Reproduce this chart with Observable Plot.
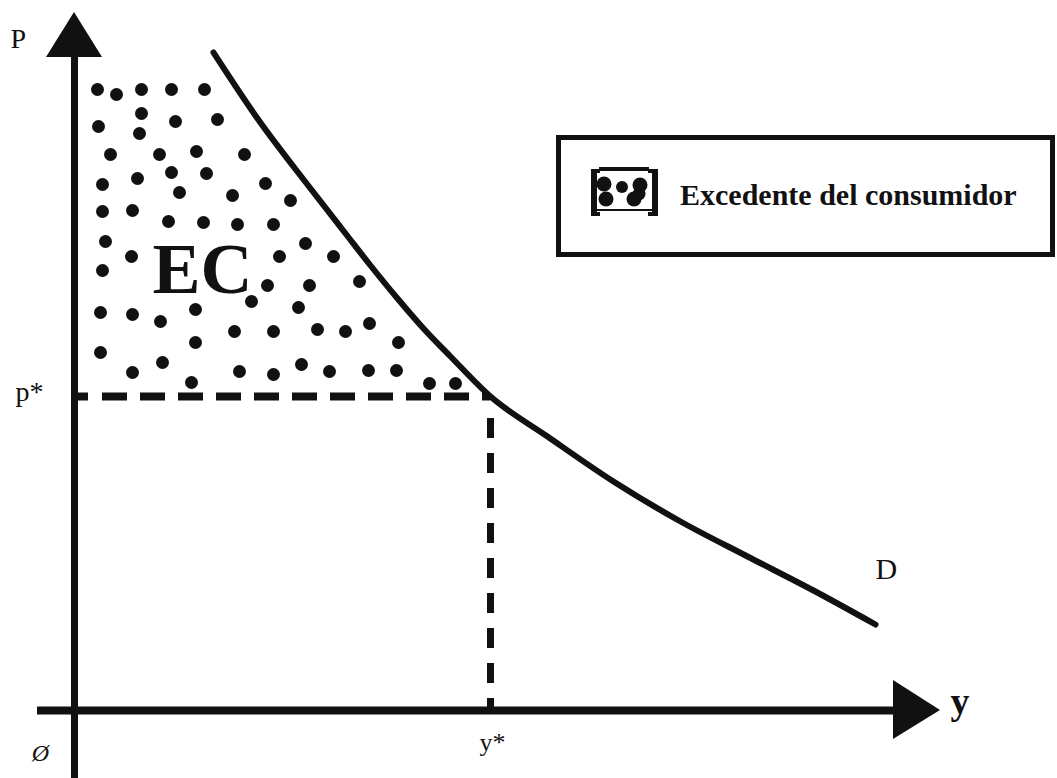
<!DOCTYPE html>
<html>
<head>
<meta charset="utf-8">
<script src="https://cdn.jsdelivr.net/npm/d3@7"></script>
<script src="https://cdn.jsdelivr.net/npm/@observablehq/plot@0.6"></script>
<style>
  html, body { margin: 0; padding: 0; background: #fff; }
  #wrap { position: relative; width: 1057px; height: 778px; overflow: hidden; background: #fff; }
  #wrap svg { position: absolute; left: 0; top: 0; display: block; }
</style>
</head>
<body>
<div id="wrap"></div>
<script>
// ---- data (quantity q, price p; origin at the axes' crossing) ----
const demandQ = [139, 183, 236, 271, 296, 323, 349, 376, 416, 473, 539, 606, 673, 739, 801];
const demandP = [658, 592, 522, 477, 445, 412, 382, 354, 314, 274, 229, 189, 154, 120, 86];
const qStar = 416;
const pStar = 314;

// dots filling the consumer surplus region
const dotQ = [23, 42, 67, 97, 130,
  24, 67, 65, 101, 143,
  36, 85, 122, 170,
  28, 63, 97, 132, 105, 158, 191, 216,
  28, 58, 94, 129, 163, 199,
  31, 231,
  57, 205, 259,
  28,
  193, 235, 285,
  177, 224,
  26, 58, 86, 121,
  160, 199, 243, 271, 295,
  121, 324,
  26,
  88, 227,
  58, 165, 199, 255, 294, 322,
  117, 355, 381];
const dotP = [621, 616, 621, 621, 621,
  584, 597, 577, 589, 591,
  556, 556, 559, 556,
  526, 532, 538, 537, 518, 515, 527, 510,
  499, 500, 489, 488, 486, 486,
  469, 467,
  454, 454, 454,
  440,
  425, 425, 429,
  409, 403,
  398, 396, 389, 401,
  379, 379, 381, 379, 387,
  368, 368,
  358,
  348, 346,
  338, 339, 336, 339, 340, 340,
  328, 327, 327];

// text labels
const priceAxisLabel = "P";
const quantityAxisLabel = "y";
const pStarLabel = "p*";
const qStarLabel = "y*";
const originLabel = "Ø";
const demandLabel = "D";
const surplusLabel = "EC";
const legendLabel = "Excedente del consumidor";

// ---- tables for Plot ----
const demand = demandQ.map((q, i) => ({q, p: demandP[i]}));
const dots = dotQ.map((q, i) => ({q, p: dotP[i]}));
const yArrow = [{q: -28, p: 653}, {q: 0, p: 698}, {q: 28, p: 653}];
const xArrow = [{p: 30, q: 819}, {p: 0, q: 866}, {p: -29, q: 819}];

const serif = "'Liberation Serif', 'Times New Roman', serif";
const ink = "#111";

const plot = Plot.plot({
  width: 1057,
  height: 778,
  margin: 0,
  x: {domain: [-74, 983], axis: null},
  y: {domain: [-68, 710], axis: null},
  style: {background: "transparent", overflow: "visible"},
  marks: [
    Plot.dot(dots, {x: "q", y: "p", r: 6.5, fill: ink, stroke: null}),
    // axes
    Plot.ruleX([0], {y1: -68, y2: 654, stroke: ink, strokeWidth: 7}),
    Plot.areaY(yArrow, {x: "q", y1: 653, y2: "p", fill: ink}),
    Plot.ruleY([0], {x1: -37, x2: 820, stroke: ink, strokeWidth: 8}),
    Plot.areaX(xArrow, {y: "p", x1: 819, x2: "q", fill: ink}),
    // equilibrium guides
    Plot.ruleY([pStar], {x1: 0, x2: 14, stroke: ink, strokeWidth: 8}),
    Plot.ruleY([pStar], {x1: 28, x2: qStar, stroke: ink, strokeWidth: 8, strokeDasharray: "25,13"}),
    Plot.ruleX([qStar], {y1: pStar - 22, y2: 0, stroke: ink, strokeWidth: 7, strokeDasharray: "20,15"}),
    // demand curve
    Plot.line(demand, {x: "q", y: "p", curve: "monotone-x", stroke: ink, strokeWidth: 6, strokeLinecap: "round"}),
    // labels
    Plot.text([priceAxisLabel], {x: -64, y: 663, textAnchor: "start", lineAnchor: "bottom", fontSize: 28, fontFamily: serif, fill: ink}),
    Plot.text([pStarLabel], {x: -59, y: 310, textAnchor: "start", lineAnchor: "bottom", fontSize: 28, fontFamily: serif, fill: ink}),
    Plot.text([surplusLabel], {x: 78, y: 418, textAnchor: "start", lineAnchor: "bottom", fontSize: 72, fontWeight: "bold", fontFamily: serif, fill: ink}),
    Plot.text([demandLabel], {x: 801, y: 132, textAnchor: "start", lineAnchor: "bottom", fontSize: 30, fontFamily: serif, fill: ink}),
    Plot.text([quantityAxisLabel], {x: 876, y: -3, textAnchor: "start", lineAnchor: "bottom", fontSize: 38, fontWeight: "bold", fontFamily: serif, fill: ink}),
    Plot.text([qStarLabel], {x: qStar + 2, y: -40, textAnchor: "middle", lineAnchor: "bottom", fontSize: 26, fontFamily: serif, fill: ink}),
    Plot.text([originLabel], {x: -34, y: -50, textAnchor: "middle", lineAnchor: "bottom", fontSize: 24, fontStyle: "italic", fontFamily: serif, fill: ink})
  ]
});

const wrap = document.getElementById("wrap");
wrap.appendChild(plot);

// ---- legend box (overlay) ----
const leg = d3.select(wrap).append("svg")
  .attr("width", 1057).attr("height", 778)
  .style("pointer-events", "none");
leg.append("rect")
  .attr("x", 558.5).attr("y", 137.5).attr("width", 494).attr("height", 117)
  .attr("fill", "#fff").attr("stroke", ink).attr("stroke-width", 5);
const icon = leg.append("g").attr("transform", "translate(586,164)").attr("fill", ink);
// brackets
icon.append("rect").attr("x", 5).attr("y", 5).attr("width", 6).attr("height", 47);
icon.append("rect").attr("x", 5).attr("y", 5).attr("width", 9).attr("height", 4);
icon.append("rect").attr("x", 5).attr("y", 48).attr("width", 9).attr("height", 4);
icon.append("rect").attr("x", 66).attr("y", 5).attr("width", 6).attr("height", 47);
icon.append("rect").attr("x", 62).attr("y", 5).attr("width", 10).attr("height", 4);
icon.append("rect").attr("x", 62).attr("y", 48).attr("width", 10).attr("height", 4);
icon.append("rect").attr("x", 13).attr("y", 3).attr("width", 50).attr("height", 4);
icon.append("rect").attr("x", 11).attr("y", 45).attr("width", 55).attr("height", 2);
// sample dots
[[18, 20, 7.5], [36, 23, 6], [54, 21, 7.5], [20, 35, 7.5], [48, 35, 7.5], [53, 30, 6.5]].forEach(([cx, cy, r]) =>
  icon.append("circle").attr("cx", cx).attr("cy", cy).attr("r", r));
leg.append("text")
  .attr("x", 680).attr("y", 205)
  .attr("font-family", serif).attr("font-weight", "bold").attr("font-size", 30)
  .attr("fill", ink)
  .text(legendLabel);
</script>
</body>
</html>
